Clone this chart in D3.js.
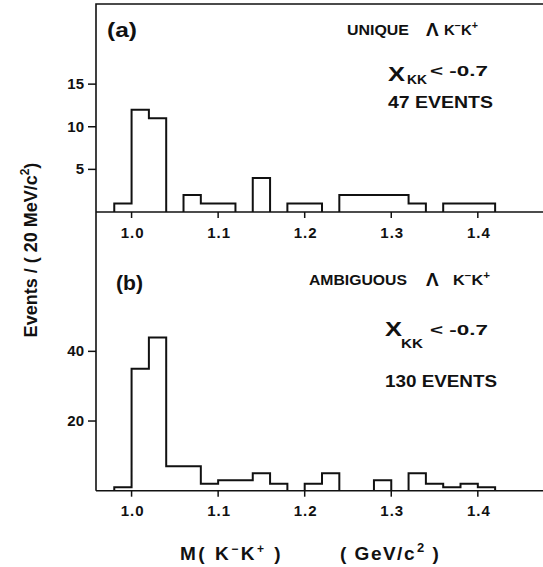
<!DOCTYPE html>
<html>
<head>
<meta charset="utf-8">
<script src="https://d3js.org/d3.v7.min.js"></script>
<style>
  body { margin: 0; background: #fff; }
  svg text { font-family: "Liberation Sans", Arial, sans-serif; fill: #111; }
</style>
</head>
<body>
<div id="chart"></div>
<script>

// lower edge of each 20 MeV bin
var binLow = [0.98, 1.00, 1.02, 1.04, 1.06, 1.08, 1.10, 1.12, 1.14, 1.16, 1.18,
              1.20, 1.22, 1.24, 1.26, 1.28, 1.30, 1.32, 1.34, 1.36, 1.38, 1.40];
var binWidth = 0.02;

// (a) unique events
var countsA = [1, 12, 11, 0, 2, 1, 1, 0, 4, 0, 1, 1, 0, 2, 2, 2, 2, 1, 0, 1, 1, 1];
// (b) ambiguous events
var countsB = [1, 35, 44, 7, 7, 2, 3, 3, 5, 2, 0, 2, 5, 0, 0, 3, 0, 5, 2, 1, 2, 1];

var xTicks = [1.0, 1.1, 1.2, 1.3, 1.4];
var xTickLabels = ["1.0", "1.1", "1.2", "1.3", "1.4"];
var yTicksA = [5, 10, 15];
var yTicksB = [20, 40];

var W = 543, H = 567;
var left = 96, right = 543;

var svg = d3.select("#chart").append("svg")
  .attr("width", W).attr("height", H);

var x = d3.scaleLinear()
  .domain([0.9589, 1.4753])
  .range([left, right]);

var yA = d3.scaleLinear().domain([0, 24.4]).range([212, 4]);
var yB = d3.scaleLinear().domain([0, 80]).range([490.7, 212]);

// frame: top line + left line
svg.append("path")
  .attr("d", "M" + right + "," + yA(24.4) + "H" + left + "V" + yB(0))
  .attr("fill", "none").attr("stroke", "#111").attr("stroke-width", 1.6);

function histPath(counts, y) {
  var p = d3.path();
  for (var i = 0; i < counts.length; i++) {
    if (counts[i] === 0) continue;
    var x0 = x(binLow[i]), x1 = x(binLow[i] + binWidth);
    if (i === 0 || counts[i - 1] === 0) {
      p.moveTo(x0, y(0));
    }
    p.lineTo(x0, y(counts[i]));
    p.lineTo(x1, y(counts[i]));
    if (i === counts.length - 1 || counts[i + 1] === 0) {
      p.lineTo(x1, y(0));
    }
  }
  return p.toString();
}

function drawPanel(counts, y, yTicks, labelY) {
  var g = svg.append("g");

  // x axis line across the full width
  g.append("line")
    .attr("x1", left).attr("x2", right)
    .attr("y1", y(0)).attr("y2", y(0))
    .attr("stroke", "#111").attr("stroke-width", 1.6);

  // x ticks (downward)
  g.selectAll(".xt").data(xTicks).enter().append("line")
    .attr("x1", function (d) { return x(d); })
    .attr("x2", function (d) { return x(d); })
    .attr("y1", y(0)).attr("y2", y(0) + 6)
    .attr("stroke", "#111").attr("stroke-width", 1.5);

  g.selectAll(".xl").data(xTicks).enter().append("text")
    .attr("x", function (d) { return x(d) + 1; })
    .attr("y", labelY)
    .attr("text-anchor", "middle")
    .style("font-size", "15px").style("font-weight", "bold")
    .style("letter-spacing", "1px")
    .text(function (d, i) { return xTickLabels[i]; });

  // y ticks (to the left)
  g.selectAll(".yt").data(yTicks).enter().append("line")
    .attr("x1", left - 8).attr("x2", left)
    .attr("y1", function (d) { return y(d); })
    .attr("y2", function (d) { return y(d); })
    .attr("stroke", "#111").attr("stroke-width", 1.5);

  g.selectAll(".yl").data(yTicks).enter().append("text")
    .attr("x", left - 12)
    .attr("y", function (d) { return y(d) + 5; })
    .attr("text-anchor", "end")
    .style("font-size", "15px").style("font-weight", "bold")
    .text(function (d) { return d; });

  // histogram outline
  g.append("path")
    .attr("d", histPath(counts, y))
    .attr("fill", "none").attr("stroke", "#111")
    .attr("stroke-width", 2).attr("stroke-linejoin", "miter");
}

drawPanel(countsA, yA, yTicksA, 238);
drawPanel(countsB, yB, yTicksB, 516);

// helper for text with sup/sub parts
function label(xp, yp, size, parts, width) {
  var t = svg.append("text")
    .attr("x", xp).attr("y", yp)
    .style("font-size", size + "px").style("font-weight", "bold");
  parts.forEach(function (p) {
    var s = t.append("tspan").text(p.t);
    if (p.dy) s.attr("dy", p.dy);
    if (p.dx) s.attr("dx", p.dx);
    if (p.size) s.style("font-size", p.size + "px");
  });
  if (width) t.attr("textLength", width).attr("lengthAdjust", "spacingAndGlyphs");
  return t;
}

var kk = [{ t: "K" }, { t: "−", dy: -6, size: 10 }, { t: "K", dy: 6 }, { t: "+", dy: -6, size: 10 }];

// panel (a) annotations
label(107, 37, 20, [{ t: "(a)" }], 30);
label(347, 35, 14, [{ t: "UNIQUE" }], 62);
label(426, 36, 19, [{ t: "Λ" }]);
label(444, 35, 14, kk, 34);
label(388, 81, 21, [{ t: "X" }], 17);
label(407, 84, 13, [{ t: "KK" }], 20);
label(430, 76, 15, [{ t: "<  -0.7" }], 58);
label(388, 108, 16, [{ t: "47 EVENTS" }], 105);

// panel (b) annotations
label(116, 290, 20, [{ t: "(b)" }], 27);
label(309, 285, 14, [{ t: "AMBIGUOUS" }], 98);
label(426, 286, 19, [{ t: "Λ" }]);
label(453, 285, 14, kk, 37);
label(385, 336, 21, [{ t: "X" }], 17);
label(401, 348, 13, [{ t: "KK" }], 22);
label(430, 335, 15, [{ t: "<  -0.7" }], 58);
label(385, 387, 16, [{ t: "130 EVENTS" }], 112);

// axis titles
label(180, 560, 19, [{ t: "M( K" }, { t: "−", dy: -7, size: 12 }, { t: "K", dy: 7 }, { t: "+", dy: -7, size: 12 }, { t: " )", dy: 7 }])
  .style("letter-spacing", "2.5px");
label(340, 560, 19, [{ t: "( GeV/c" }, { t: "2", dy: -8, dx: 1, size: 13 }, { t: " )", dy: 8 }])
  .style("letter-spacing", "1.5px");

svg.append("text")
  .attr("transform", "translate(37,250) rotate(-90)")
  .attr("text-anchor", "middle")
  .style("font-size", "18px").style("font-weight", "bold")
  .text("Events / ( 20 MeV/c")
  .append("tspan").attr("dy", -8).style("font-size", "12px").text("2")
  .select(function () { return this.parentNode; })
  .append("tspan").attr("dy", 8).text(")");

</script>
</body>
</html>
